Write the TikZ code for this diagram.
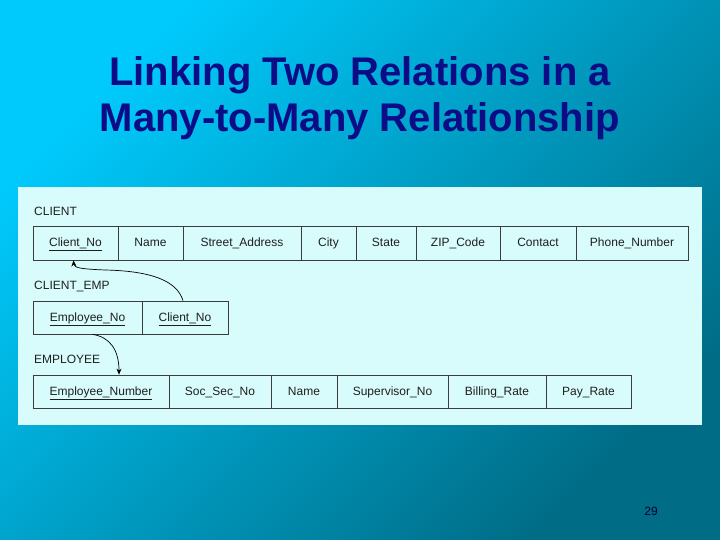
\documentclass[tikz,border=0pt]{standalone}
\usepackage{fontspec}
\setmainfont{Liberation Sans}
\usetikzlibrary{arrows.meta}
\definecolor{bgA}{RGB}{0,202,252}
\definecolor{bgB}{RGB}{0,108,134}
\definecolor{panel}{RGB}{216,252,252}
\definecolor{titleblue}{RGB}{12,12,135}
\definecolor{txt}{RGB}{30,30,30}
\definecolor{bord}{RGB}{60,60,60}
\tikzset{
  cell/.style={draw=bord, line width=0.8pt, minimum height=34pt, inner sep=0pt,
    text height=9.5pt, text depth=2pt,
    font=\fontsize{12}{14}\selectfont, text=txt},
  rellabel/.style={anchor=base west, inner sep=0pt, font=\fontsize{12}{14}\selectfont, text=txt},
  arr/.style={draw=black, line width=0.7pt, -{Stealth[length=6pt,width=5pt]}},
}
\newcommand{\keyf}[1]{\underline{#1}}
\begin{document}
\begin{tikzpicture}[x=1pt,y=-1pt]
\useasboundingbox (0,0) rectangle (720,540);
\shade[top color=bgA, bottom color=bgB, shading angle=45] (0,0) rectangle (720,540);
% title
\node[font=\fontsize{40}{46}\selectfont\bfseries, text=titleblue, anchor=base] (t1) at (360,86) {Linking Two Relations in a};
\node[font=\fontsize{40}{46}\selectfont\bfseries, text=titleblue, anchor=base] (t2) at (360,132) {Many-to-Many Relationship};
% panel
\fill[panel] (18,187) rectangle (702,425);
% CLIENT
\node[rellabel] (lc) at (34,215) {CLIENT};
\node[cell, minimum width=85pt]  (c1) at (75.5,243) {\keyf{Client\_No}};
\node[cell, minimum width=65pt]  (c2) at (150.5,243) {Name};
\node[cell, minimum width=118pt] (c3) at (242,243) {Street\_Address};
\node[cell, minimum width=55pt]  (c4) at (328.5,243) {City};
\node[cell, minimum width=60pt]  (c5) at (386,243) {State};
\node[cell, minimum width=84pt]  (c6) at (458,243) {ZIP\_Code};
\node[cell, minimum width=76pt]  (c7) at (538,243) {Contact};
\node[cell, minimum width=112pt] (c8) at (632,243) {Phone\_Number};
% CLIENT_EMP
\node[rellabel] (le) at (34,289) {CLIENT\_EMP};
\node[cell, minimum width=109pt, minimum height=33pt] (e1) at (87.5,317.5) {\keyf{Employee\_No}};
\node[cell, minimum width=86pt, minimum height=33pt]  (e2) at (185,317.5) {\keyf{Client\_No}};
% EMPLOYEE
\node[rellabel] (lm) at (34,363) {EMPLOYEE};
\node[cell, minimum width=136pt, minimum height=33pt] (m1) at (101,391.5) {\keyf{Employee\_Number}};
\node[cell, minimum width=102pt, minimum height=33pt] (m2) at (220,391.5) {Soc\_Sec\_No};
\node[cell, minimum width=66pt, minimum height=33pt]  (m3) at (304,391.5) {Name};
\node[cell, minimum width=111pt, minimum height=33pt] (m4) at (392.5,391.5) {Supervisor\_No};
\node[cell, minimum width=98pt, minimum height=33pt]  (m5) at (497,391.5) {Billing\_Rate};
\node[cell, minimum width=85pt, minimum height=33pt]  (m6) at (588.5,391.5) {Pay\_Rate};
% connectors
\draw[arr] ([xshift=-2pt]e2.north) .. controls (177,281) and (152,271) .. (105,270)
  .. controls (82,269) and (74,268) .. ([xshift=-2pt]c1.south);
\draw[arr] ([xshift=5pt]e1.south) .. controls (110,337) and (119,350) .. ([xshift=18pt]m1.north);
% page number
\node[font=\fontsize{12}{14}\selectfont, text=black!80!blue, anchor=base] (pg) at (651,515) {29};
\end{tikzpicture}
\end{document}
